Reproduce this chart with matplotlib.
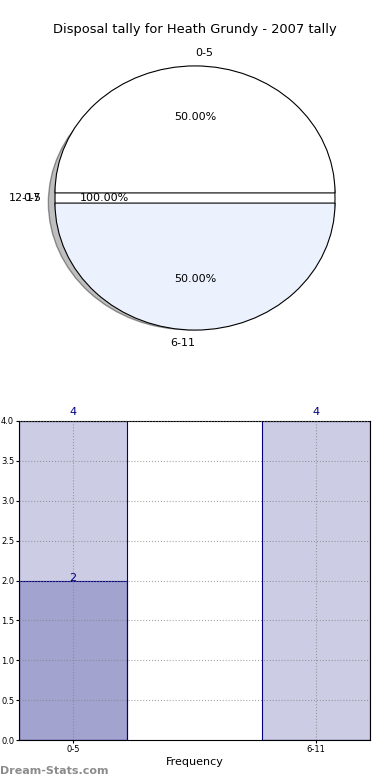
import numpy as np
import matplotlib
matplotlib.use('Agg')
import matplotlib.pyplot as plt
from matplotlib.patches import Ellipse, Shadow

# pie data (the empty 12-17 bin sits between the two halves)
pie_labels = ['0-5', '12-17', '6-11']
pie_values = [4, 0, 4]
pie_colors = ['#ffffff', '#ffffff', '#ebf1fd']
pie_explode = [0.04, 0.0, 0.04]

# bar data
bar_labels = ['0-5', '6-11']
bar_totals = [4, 4]
bar_inner = [2, 0]

title = 'Disposal tally for Heath Grundy - 2007 tally'

fig = plt.figure(figsize=(3.9, 7.8), dpi=100)

# ---- pie ----
ax1 = fig.add_axes([0, 1 - 396 / 780, 1, 396 / 780])
rx, ry = 140.0, 127.0
wedges, texts, autotexts = ax1.pie(
    pie_values, labels=pie_labels, colors=pie_colors, explode=pie_explode,
    startangle=0, labeldistance=1.1, pctdistance=0.6,
    autopct=lambda p: '%.2f%%' % p if p > 0 else '',
    wedgeprops=dict(edgecolor='black', linewidth=0.8),
    textprops=dict(fontsize=8))
ax1.set_aspect('auto')
ax1.set_xlim(-195 / rx, 195 / rx)
ax1.set_ylim(-198 / ry, 198 / ry)
ax1.axis('off')
for wd, v in zip(wedges, pie_values):
    wd.set_zorder(3)
    if v == 0:
        wd.set_linewidth(0)
texts[0].set_ha('left')
texts[2].set_ha('right')

# full-pie backing with its shadow
back = Ellipse((0, 0), 2, 2, facecolor='white', edgecolor='black', linewidth=0.8, zorder=2)
shadow = Shadow(back, -0.034, -0.026, shade=0.5, edgecolor='#333333', linewidth=1.0, zorder=1)
ax1.add_patch(shadow)
ax1.add_patch(back)

# overlapping leftover texts from the empty bin
ax1.text(-1.1, 0, pie_labels[0], ha='right', va='center', fontsize=8, zorder=4)
ax1.text(-0.65, 0, '100.00%', ha='center', va='center', fontsize=8, zorder=4)
fig.text(0.5, 1 - 30 / 780, title, ha='center', va='center', fontsize=9.4)

# ---- bars ----
ax2 = fig.add_axes([19 / 390, 40 / 780, 351 / 390, 319 / 780])
x = np.arange(len(bar_labels))
w = 0.444
ax2.bar(x, bar_totals, width=w, color='navy', alpha=0.2, edgecolor='none')
ax2.bar(x, bar_totals, width=w, color='none', edgecolor='navy', linewidth=0.8)
ax2.bar(x, bar_inner, width=w, color='navy', alpha=0.2, edgecolor='none')
ax2.bar(x, bar_inner, width=w, color='none', edgecolor='navy', linewidth=0.8)
for xi, v in zip(x, bar_totals):
    ax2.text(xi, v + 0.05, str(v), ha='center', va='bottom', fontsize=8, color='navy')
for xi, v in zip(x, bar_inner):
    if v > 0:
        ax2.text(xi, v - 0.03, str(v), ha='center', va='bottom', fontsize=8, color='navy')
ax2.set_xlim(-w / 2, 1 + w / 2)
ax2.set_ylim(0, 4)
ax2.set_yticks(np.arange(0, 4.01, 0.5))
ax2.set_xticks(x)
ax2.set_xticklabels(bar_labels)
ax2.tick_params(labelsize=6, length=2, pad=1.5)
ax2.grid(True, linestyle=':', color='gray', alpha=0.7, linewidth=0.8)
ax2.set_axisbelow(False)
ax2.set_xlabel('Frequency', fontsize=8, labelpad=2)

fig.text(0.0, 1 - 771 / 780, 'Dream-Stats.com', ha='left', va='center',
         fontsize=8, color='#8c8c8c', fontweight='semibold')

fig.savefig('out.png', dpi=100)
